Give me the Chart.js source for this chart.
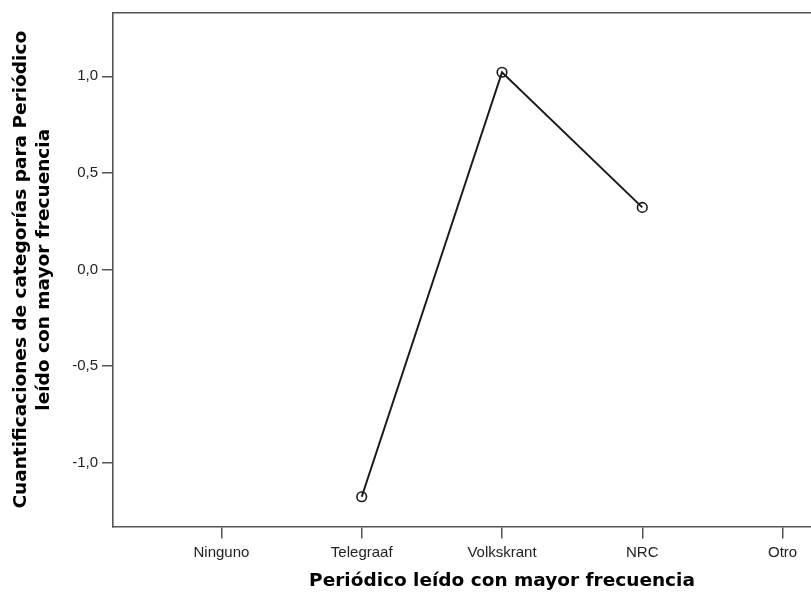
<!DOCTYPE html>
<html>
<head>
<meta charset="utf-8">
<script src="https://cdn.jsdelivr.net/npm/chart.js@4.4.1/dist/chart.umd.min.js"></script>
<style>
  html, body { margin: 0; padding: 0; background: #fff; overflow: hidden; }
  #wrap { width: 900px; height: 595px; }
</style>
</head>
<body>
<div id="wrap"><canvas id="chart" width="900" height="595"></canvas></div>
<script>
// datos del gráfico
var categorias = ["Ninguno", "Telegraaf", "Volkskrant", "NRC", "Otro"];
var cuantificaciones = [null, -1.178, 1.021, 0.321, null];
var ticksY = [-1.0, -0.5, 0.0, 0.5, 1.0];
var ticksX = [1, 2, 3, 4, 5];

var ejeColor = '#555';
var fuenteTicks = { family: 'Liberation Sans, Arial, sans-serif', size: 15 };
var fuenteTitulo = { family: 'DejaVu Sans', size: 18.5, weight: 'bold', lineHeight: 1.254 };

var puntos = [];
for (var i = 0; i < categorias.length; i++) {
  puntos.push({ x: i + 1, y: cuantificaciones[i] });
}

/* ------------------------------------------------------ */
window.myChart = new Chart(document.getElementById('chart'), {
  type: 'line',
  data: {
    datasets: [{
      data: puntos,
      borderColor: '#1a1a1a',
      borderWidth: 2,
      pointStyle: 'circle',
      pointRadius: 4.8,
      pointBorderWidth: 1.6,
      pointBorderColor: '#1a1a1a',
      pointBackgroundColor: 'rgba(0,0,0,0)',
      tension: 0
    }]
  },
  options: {
    responsive: false,
    animation: false,
    devicePixelRatio: 1,
    layout: { padding: { top: 13, left: 0, right: 9, bottom: 0 } },
    plugins: { legend: { display: false }, tooltip: { enabled: false } },
    scales: {
      x: {
        type: 'linear',
        position: 'bottom',
        min: 0.227,
        max: 5.773,
        afterBuildTicks: function (s) { s.ticks = ticksX.map(function (v) { return { value: v }; }); },
        afterFit: function (s) { s.height = 68.5; },
        grid: { drawOnChartArea: false, drawTicks: true, tickLength: 12, color: ejeColor, lineWidth: 1.5 },
        border: { color: ejeColor, width: 1.6 },
        ticks: {
          color: '#222',
          font: fuenteTicks,
          padding: 5,
          maxRotation: 0,
          autoSkip: false,
          callback: function (v) { return categorias[v - 1]; }
        },
        title: {
          display: true,
          text: 'Periódico leído con mayor frecuencia',
          color: '#000',
          font: fuenteTitulo,
          padding: { top: 0, bottom: 2 }
        }
      },
      x2: {
        type: 'linear',
        position: 'top',
        min: 0.227,
        max: 5.773,
        afterFit: function (s) { s.height = 0; },
        grid: { drawOnChartArea: false, drawTicks: false },
        border: { color: ejeColor, width: 1.6 },
        ticks: { display: false }
      },
      y: {
        type: 'linear',
        min: -1.332,
        max: 1.328,
        afterBuildTicks: function (s) { s.ticks = ticksY.map(function (v) { return { value: v }; }); },
        afterFit: function (s) { s.width = 113; },
        grid: { drawOnChartArea: false, drawTicks: true, tickLength: 11, color: ejeColor, lineWidth: 1.5 },
        border: { color: ejeColor, width: 1.6 },
        ticks: {
          color: '#222',
          font: fuenteTicks,
          padding: 4,
          callback: function (v) { return v.toFixed(1).replace('.', ','); }
        },
        title: {
          display: true,
          text: ['Cuantificaciones de categorías para Periódico', 'leído con mayor frecuencia'],
          color: '#000',
          font: fuenteTitulo,
          padding: { top: 9.5, bottom: 0 }
        }
      }
    }
  }
});
/* ------------------------------------------------------ */
</script>
</body>
</html>
